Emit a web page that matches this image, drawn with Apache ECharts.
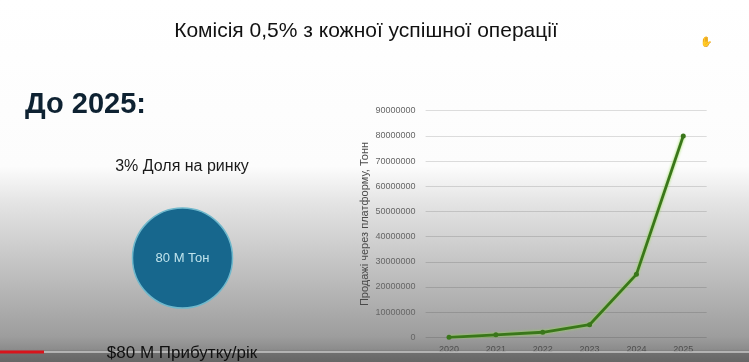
<!DOCTYPE html>
<html>
<head>
<meta charset="utf-8">
<script src="https://cdn.jsdelivr.net/npm/echarts@6/dist/echarts.min.js"></script>
<style>html,body{margin:0;padding:0;}#c{width:749px;height:362px;}</style>
</head>
<body>
<div id="c"></div>
<script>
const years = ['2020', '2021', '2022', '2023', '2024', '2025'];
const salesTons = [0, 1000000, 2000000, 5000000, 25000000, 80000000];
const yAxisName = 'Продажі через платформу, Тонн';
const slideTitle = 'Комісія 0,5% з кожної успішної операції';
const headline = 'До 2025:';
const marketShare = '3% Доля на ринку';
const circleLabel = '80 M Тон';
const profitLabel = '$80 M Прибутку/рік';

const chart = echarts.init(document.getElementById('c'), null, {renderer: 'canvas'});
const FONT = '"Liberation Sans", Arial, sans-serif';
chart.setOption({
  backgroundColor: {
    type: 'linear', x: 0, y: 0, x2: 0, y2: 1,
    colorStops: [
      {offset: 0, color: '#ffffff'},
      {offset: 0.46, color: '#fcfcfc'},
      {offset: 0.56, color: '#e4e4e4'},
      {offset: 0.75, color: '#c0c0c0'},
      {offset: 0.93, color: '#9d9d9d'},
      {offset: 0.965, color: '#8c8c8c'},
      {offset: 0.975, color: '#707070'},
      {offset: 1, color: '#666666'}
    ]
  },
  animation: false,
  grid: {left: 425.6, right: 42.3, top: 110.7, bottom: 24.7, containLabel: false},
  xAxis: {
    type: 'category',
    data: years,
    boundaryGap: true,
    axisLine: {show: false},
    axisTick: {show: false},
    axisLabel: {color: '#4e4e4e', fontSize: 9, fontFamily: FONT, margin: 8}
  },
  yAxis: {
    type: 'value',
    min: 0, max: 90000000, interval: 10000000,
    name: yAxisName,
    nameLocation: 'middle',
    nameRotate: 90,
    nameGap: 55,
    nameTextStyle: {color: '#4a4a4a', fontSize: 11, fontFamily: FONT},
    axisLine: {show: false},
    axisTick: {show: false},
    axisLabel: {color: '#666', fontSize: 9, fontFamily: FONT, margin: 10, formatter: function (v) { return String(v); }},
    splitLine: {lineStyle: {color: 'rgba(0,0,0,0.13)', width: 1}}
  },
  series: [{
    type: 'line',
    data: salesTons,
    symbol: 'circle',
    symbolSize: 5,
    itemStyle: {color: '#3a761b'},
    lineStyle: {color: '#3a761b', width: 2.8, shadowColor: '#8fdc4a', shadowBlur: 3}
  }],
  graphic: [
    {type: 'text', x: 366, y: 31, style: {text: slideTitle, font: '21px ' + FONT, fill: '#111', align: 'center', verticalAlign: 'middle'}, z: 10},
    {type: 'text', x: 25, y: 105, style: {text: headline, font: 'bold 29px ' + FONT, fill: '#0e2232', verticalAlign: 'middle'}, z: 10},
    {type: 'text', x: 182, y: 167, style: {text: marketShare, font: '16px ' + FONT, fill: '#1a1a1a', align: 'center', verticalAlign: 'middle'}, z: 10},
    {type: 'circle', shape: {cx: 182.5, cy: 258, r: 50}, style: {fill: '#17678d', stroke: '#6fb8cc', lineWidth: 1.5}, z: 10},
    {type: 'text', x: 182.5, y: 258, style: {text: circleLabel, font: '13px ' + FONT, fill: '#bfe3ec', align: 'center', verticalAlign: 'middle'}, z: 11},
    {type: 'rect', shape: {x: 0, y: 351, width: 749, height: 2}, style: {fill: 'rgba(220,220,220,0.6)'}, z: 5},
    {type: 'rect', shape: {x: 0, y: 350.5, width: 44, height: 3}, style: {fill: '#d8141c'}, z: 6},
    {type: 'text', x: 182, y: 353, style: {text: profitLabel, font: '17px ' + FONT, fill: '#111', align: 'center', verticalAlign: 'middle'}, z: 10},
    {type: 'text', x: 706, y: 42, style: {text: '✋', font: '10px sans-serif', fill: '#333', align: 'center', verticalAlign: 'middle'}, z: 10}
  ]
});
</script>
</body>
</html>
